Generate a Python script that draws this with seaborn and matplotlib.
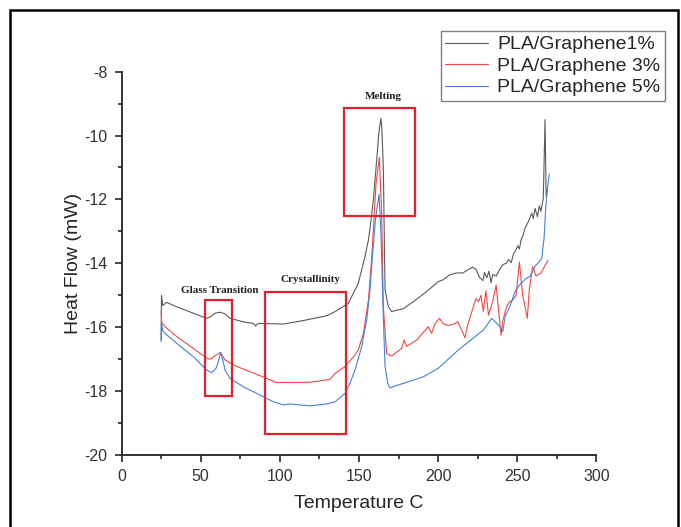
import numpy as np
import pandas as pd
import matplotlib
matplotlib.use('Agg')
import matplotlib.pyplot as plt
from matplotlib.patches import Rectangle
from matplotlib.ticker import MultipleLocator
import seaborn as sns

# DSC curves (temperature in C, heat flow in mW)
t_g1 = [25.0, 25.2, 26.0, 28.5, 34.8, 45.3, 53.8, 56.0, 59.0, 62.2, 65.4, 68.5, 76.9, 83.2, 84.7, 86.3,
        102.2, 114.8, 129.6, 134.9, 143.3, 149.6, 153.8, 156.0, 157.5, 159.1, 161.2, 162.6, 163.9, 164.4,
        165.4, 166.5, 168.6, 170.7, 172.8, 178.0, 184.4, 192.8, 200.2, 203.0, 207.3, 211.5, 215.7, 218.8,
        222.0, 224.1, 226.2, 228.3, 229.4, 230.8, 232.1, 233.5, 234.6, 236.7, 238.8, 240.9, 243.0, 244.7,
        246.2, 247.7, 249.0, 250.4, 251.4, 252.5, 253.5, 255.0, 257.0, 259.2, 260.2, 261.3, 262.8, 264.0,
        265.0, 266.5, 267.6, 268.3, 269.0]
hf_g1 = [-16.4, -15.0, -15.32, -15.22, -15.36, -15.56, -15.72, -15.68, -15.56, -15.53, -15.58, -15.72, -15.83,
         -15.88, -15.96, -15.88, -15.9, -15.79, -15.64, -15.51, -15.25, -14.62, -13.79, -13.27, -12.7, -12.02,
         -10.77, -9.9, -9.46, -9.7, -10.98, -14.83, -15.36, -15.51, -15.48, -15.42, -15.2, -14.88, -14.57,
         -14.52, -14.36, -14.3, -14.3, -14.2, -14.12, -14.2, -14.44, -14.54, -14.28, -14.45, -14.25, -14.6,
         -14.35, -14.4, -14.2, -14.04, -14.0, -13.88, -13.98, -13.7, -13.6, -13.45, -13.55, -13.25, -13.15,
         -12.9, -12.7, -12.43, -12.6, -12.28, -12.54, -12.2, -12.37, -11.96, -9.5, -11.9, -11.7]

t_g3 = [25.0, 25.4, 27.4, 34.8, 45.3, 53.8, 55.9, 59.0, 62.2, 65.4, 70.6, 81.1, 91.7, 98.0, 119.1, 131.7,
        134.9, 141.2, 147.5, 149.6, 152.8, 156.0, 158.1, 160.8, 162.9, 164.4, 165.4, 167.5, 170.7, 177.0,
        178.5, 180.2, 186.5, 193.8, 195.9, 197.9, 201.0, 203.0, 206.0, 209.0, 212.5, 214.5, 217.0, 218.7,
        221.9, 224.0, 225.6, 227.1, 228.6, 230.2, 231.9, 234.5, 236.7, 239.8, 240.9, 243.0, 245.1, 247.2,
        249.3, 251.4, 253.5, 256.4, 257.7, 259.8, 261.9, 265.0, 269.5]
hf_g3 = [-15.5, -15.85, -15.98, -16.29, -16.66, -16.97, -17.0, -16.9, -16.79, -17.02, -17.18, -17.39, -17.6,
         -17.73, -17.72, -17.63, -17.44, -17.23, -16.87, -16.71, -16.19, -15.15, -13.79, -11.5, -10.68,
         -12.54, -15.36, -16.82, -16.9, -16.66, -16.4, -16.6, -16.4, -15.98, -16.19, -15.9, -15.72, -15.88,
         -15.94, -15.92, -15.83, -16.04, -16.33, -15.94, -15.42, -15.1, -15.2, -15.0, -15.5, -14.86, -15.62,
         -15.2, -14.68, -16.25, -15.8, -15.4, -15.2, -15.15, -15.0, -13.96, -15.0, -15.72, -14.8, -14.1,
         -14.4, -14.3, -13.9]

t_g5 = [25.0, 25.2, 26.0, 27.4, 34.8, 45.3, 53.8, 57.0, 59.7, 61.2, 62.6, 63.9, 65.4, 68.5, 76.9, 87.4,
        95.8, 102.2, 106.4, 119.1, 129.6, 134.9, 141.2, 144.3, 147.5, 151.7, 154.9, 157.0, 158.5, 160.5,
        162.7, 163.9, 165.4, 166.5, 168.2, 169.6, 172.8, 190.7, 200.2, 212.8, 221.9, 228.6, 233.9, 236.0,
        239.2, 240.9, 242.4, 245.5, 248.7, 251.8, 255.0, 258.2, 261.3, 263.4, 265.5, 267.0, 268.0, 269.0,
        270.3]
hf_g5 = [-16.45, -15.85, -16.1, -16.19, -16.5, -16.92, -17.34, -17.42, -17.28, -17.07, -16.78, -17.02, -17.34,
         -17.6, -17.86, -18.12, -18.33, -18.43, -18.4, -18.46, -18.4, -18.33, -18.07, -17.75, -17.34, -16.61,
         -15.77, -14.83, -13.79, -12.6, -11.84, -13.06, -15.67, -17.23, -17.75, -17.9, -17.84, -17.55,
         -17.28, -16.71, -16.35, -16.09, -15.72, -15.82, -15.98, -16.13, -15.66, -15.34, -14.87, -14.66,
         -14.5, -14.4, -14.09, -13.98, -13.85, -13.2, -12.3, -11.7, -11.2]

series_names = ['PLA/Graphene1%', 'PLA/Graphene 3%', 'PLA/Graphene 5%']
series_colors = ['#5a5a5a', '#f04848', '#4383d8']

# highlighted regions: (label, x0, x1, y0, y1) and label anchor
boxes = [('Glass Transition', 53.0, 70.0, -18.15, -15.15, 62.0, -14.86),
         ('Crystallinity', 90.9, 141.9, -19.35, -14.9, 119.4, -14.52),
         ('Melting', 140.8, 185.3, -12.52, -9.15, 165.1, -8.77)]

df = pd.concat([
    pd.DataFrame({'T': t_g1, 'HF': hf_g1, 'series': series_names[0]}),
    pd.DataFrame({'T': t_g3, 'HF': hf_g3, 'series': series_names[1]}),
    pd.DataFrame({'T': t_g5, 'HF': hf_g5, 'series': series_names[2]}),
], ignore_index=True)

sns.set_style('ticks')
plt.rcParams['font.family'] = ['Liberation Sans', 'DejaVu Sans']
plt.rcParams['axes.unicode_minus'] = False

fig = plt.figure(figsize=(6.81, 5.27), dpi=100)
ax = fig.add_axes([121.6 / 681, 1 - 455.1 / 527, (596.3 - 121.6) / 681, (455.1 - 71.6) / 527])

sns.lineplot(data=df, x='T', y='HF', hue='series', palette=series_colors, estimator=None,
             sort=False, linewidth=0.8, ax=ax)

for name, x0, x1, y0, y1, tx, ty in boxes:
    ax.add_patch(Rectangle((x0, y0), x1 - x0, y1 - y0, fill=False, ec='#e3202c', lw=1.6, zorder=3))
    ax.text(tx, ty, name, ha='center', va='center', fontsize=8, fontweight='bold',
            family=['Liberation Serif', 'DejaVu Serif'], color='#222222')

ax.set_xlim(0, 300)
ax.set_ylim(-20, -8)
ax.xaxis.set_major_locator(MultipleLocator(50))
ax.xaxis.set_minor_locator(MultipleLocator(25))
ax.yaxis.set_major_locator(MultipleLocator(2))
ax.yaxis.set_minor_locator(MultipleLocator(1))
ax.tick_params(which='major', direction='out', length=5, width=1.2, labelsize=11.5,
               labelcolor='#333333', pad=5)
ax.tick_params(which='minor', direction='out', length=3, width=1.2)
sns.despine(ax=ax)
for s in ['left', 'bottom']:
    ax.spines[s].set_linewidth(1.3)
    ax.spines[s].set_color('#222222')

ax.set_xlabel('Temperature C', fontsize=14, labelpad=8)
ax.set_ylabel('Heat Flow (mW)', fontsize=14, labelpad=2)

handles, labels = ax.get_legend_handles_labels()
ax.legend(handles, labels, loc='upper right', bbox_to_anchor=(665 / 681, 1 - 31 / 527),
          bbox_transform=fig.transFigure, fontsize=14, frameon=True, fancybox=False,
          edgecolor='#808080', framealpha=1, handlelength=2.2, handletextpad=0.45,
          labelspacing=0.2, borderpad=0.25, borderaxespad=0)
ax.get_legend().get_frame().set_linewidth(1.0)

# black frame around the whole picture (bottom edge runs off the image)
fig.add_artist(Rectangle((9.5 / 681, -0.05), (677.5 - 9.5) / 681, 1 - 10 / 527 + 0.05,
                         transform=fig.transFigure, fill=False, ec='black', lw=1.8, clip_on=False))

fig.savefig('out.png', dpi=100)
